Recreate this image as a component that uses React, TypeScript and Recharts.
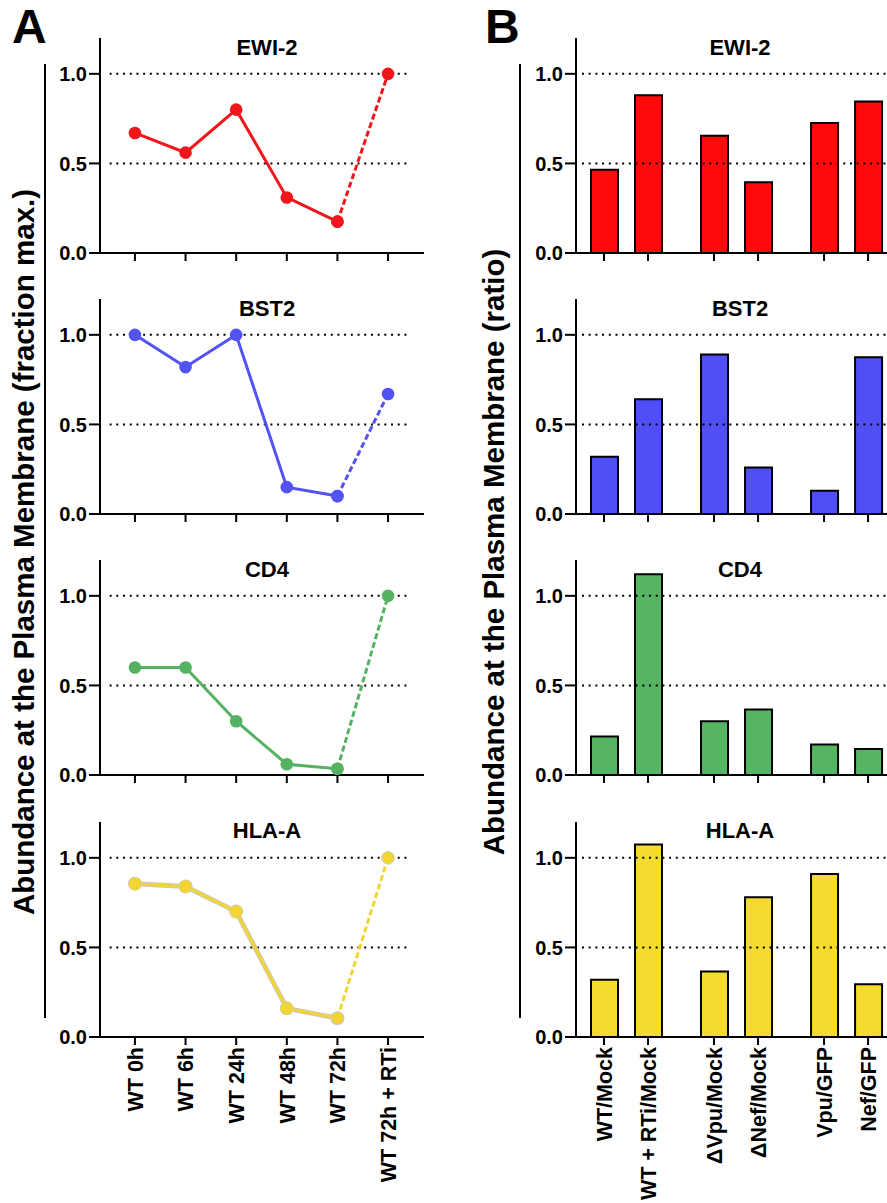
import React from "react"
import { LineChart, Line, BarChart, Bar, XAxis, YAxis, ReferenceLine } from "recharts"

const FONT = "'Liberation Sans', Arial, Helvetica, sans-serif"

// panel titles, one per row
const proteins = ["EWI-2", "BST2", "CD4", "HLA-A"]

// panel A: time course, fraction of max
const timeLabels = ["WT 0h", "WT 6h", "WT 24h", "WT 48h", "WT 72h", "WT 72h + RTi"]
const ewi2Time = [0.67, 0.56, 0.8, 0.31, 0.175, 1.0]
const bst2Time = [1.0, 0.82, 1.0, 0.15, 0.1, 0.67]
const cd4Time = [0.6, 0.6, 0.3, 0.06, 0.035, 1.0]
const hlaTime = [0.855, 0.84, 0.7, 0.16, 0.105, 1.0]

// panel B: ratios, bars grouped in pairs
const ratioLabels = ["WT/Mock", "WT + RTi/Mock", "\u0394Vpu/Mock", "\u0394Nef/Mock", "Vpu/GFP", "Nef/GFP"]
const ratioSlots = [0, 1, 2.5, 3.5, 5, 6]
const ewi2Ratio = [0.465, 0.88, 0.655, 0.395, 0.725, 0.845]
const bst2Ratio = [0.32, 0.64, 0.89, 0.26, 0.13, 0.875]
const cd4Ratio = [0.215, 1.12, 0.3, 0.365, 0.17, 0.145]
const hlaRatio = [0.32, 1.075, 0.365, 0.78, 0.91, 0.295]

const yTicks = [0, 0.5, 1.0]
const gridValues = [0.5, 1.0]

const timeSeries = [ewi2Time, bst2Time, cd4Time, hlaTime]
const ratioSeries = [ewi2Ratio, bst2Ratio, cd4Ratio, hlaRatio]

const lineColors = ["#f2161c", "#5353f3", "#55b262", "#f3d532"]
const barColors = ["#ff0a0a", "#4f4ff5", "#55b563", "#f5da2f"]

// layout
const ZERO0 = 253
const ROW_STEP = 261.2
const PLOT_H = 215
const TOP_M = 10
const LABEL_MID = 552

const axisStyle = { stroke: "#000", strokeWidth: 2 }
const tickFont = { fill: "#000", fontSize: 20, fontWeight: 700, fontFamily: FONT }

// rotated category label under the x axis
function makeTick(labels: string[], slots: number[], show: boolean) {
    // eslint-disable-next-line @typescript-eslint/no-explicit-any
    return ({ x, y, payload }: any) => {
        if (!show) return <g />
        const i = slots.indexOf(payload.value)
        return (
            <text
                x={x}
                y={y}
                transform={`rotate(-90, ${x}, ${y})`}
                textAnchor="end"
                dy="0.36em"
                fill="#000"
                fontSize={21.5}
                fontWeight={700}
                fontFamily={FONT}
            >
                {labels[i]}
            </text>
        )
    }
}

function yAxis() {
    return (
        <YAxis
            type="number"
            domain={[0, 1.2]}
            ticks={yTicks}
            tickFormatter={(v: number) => v.toFixed(1)}
            width={100}
            tickSize={11}
            tickMargin={2}
            axisLine={axisStyle}
            tickLine={axisStyle}
            tick={tickFont}
        />
    )
}

function gridLines(x0: number, x1: number) {
    return gridValues.map(g => (
        <ReferenceLine
            key={g}
            segment={[{ x: x0, y: g }, { x: x1, y: g }]}
            stroke="#000"
            strokeWidth={2}
            strokeDasharray="2 4.7"
        />
    ))
}

function TimePanel({ row }: { row: number }) {
    const values = timeSeries[row]
    const color = lineColors[row]
    const last = row === 3
    const axisH = last ? 170 : 20
    const zero = ZERO0 + ROW_STEP * row
    const slots = timeLabels.map((_, i) => i)
    const data = values.map((v, i) => ({
        pos: i,
        solid: i <= 4 ? v : null,
        dashed: i >= 4 ? v : null,
    }))
    const halo = row === 3
    return (
        <div style={{ position: "absolute", left: 0, top: zero - PLOT_H - TOP_M }}>
            <LineChart width={440} height={TOP_M + PLOT_H + axisH} data={data} margin={{ top: TOP_M, right: 16, bottom: 0, left: 0 }}>
                {gridLines(-0.5, 5.45)}
                <XAxis
                    type="number"
                    dataKey="pos"
                    domain={[-0.69, 5.71]}
                    ticks={slots}
                    interval={0}
                    allowDataOverflow
                    height={axisH}
                    tickSize={8}
                    tickMargin={2}
                    axisLine={axisStyle}
                    tickLine={axisStyle}
                    tick={makeTick(timeLabels, slots, last)}
                />
                {yAxis()}
                {halo && (
                    <Line
                        dataKey="solid"
                        stroke="#c9c9c9"
                        strokeWidth={5}
                        dot={{ r: 7, fill: "#c9c9c9", stroke: "none" }}
                        isAnimationActive={false}
                    />
                )}
                <Line
                    dataKey="solid"
                    stroke={color}
                    strokeWidth={3}
                    dot={{ r: 6.3, fill: color, stroke: "none" }}
                    isAnimationActive={false}
                />
                <Line
                    dataKey="dashed"
                    stroke={color}
                    strokeWidth={3}
                    strokeDasharray="6 3"
                    dot={{ r: 6.3, fill: color, stroke: halo ? "#c9c9c9" : "none", strokeWidth: 1, strokeDasharray: "" }}
                    isAnimationActive={false}
                />
            </LineChart>
        </div>
    )
}

function RatioPanel({ row }: { row: number }) {
    const values = ratioSeries[row]
    const last = row === 3
    const axisH = last ? 170 : 20
    const zero = ZERO0 + ROW_STEP * row
    const data = values.map((v, i) => ({ pos: ratioSlots[i], v }))
    return (
        <div style={{ position: "absolute", left: 476, top: zero - PLOT_H - TOP_M }}>
            <BarChart width={411} height={TOP_M + PLOT_H + axisH} data={data} margin={{ top: TOP_M, right: 0, bottom: 0, left: 0 }}>
                {gridLines(-0.5, 6.43)}
                <XAxis
                    type="number"
                    dataKey="pos"
                    domain={[-0.636, 6.43]}
                    ticks={ratioSlots}
                    interval={0}
                    allowDataOverflow
                    height={axisH}
                    tickSize={8}
                    tickMargin={2}
                    axisLine={axisStyle}
                    tickLine={axisStyle}
                    tick={makeTick(ratioLabels, ratioSlots, last)}
                />
                {yAxis()}
                <Bar dataKey="v" fill={barColors[row]} stroke="#000" strokeWidth={2} barSize={27} isAnimationActive={false} />
            </BarChart>
        </div>
    )
}

export default function App() {
    const rows = [0, 1, 2, 3]
    return (
        <div style={{ position: "absolute", left: 0, top: 0, width: 887, height: 1203, background: "#fff", overflow: "hidden" }}>
            {rows.map(r => <TimePanel key={`a${r}`} row={r} />)}
            {rows.map(r => <RatioPanel key={`b${r}`} row={r} />)}
            <svg width={887} height={1203} style={{ position: "absolute", left: 0, top: 0, pointerEvents: "none" }}>
                <g fontFamily={FONT} fontWeight={700} fill="#000">
                    <text x={12} y={43} fontSize={48}>A</text>
                    <text x={485} y={43} fontSize={48}>B</text>
                    {rows.map(r => (
                        <g key={`t${r}`}>
                            <text x={267} y={ZERO0 + ROW_STEP * r - 198.5} fontSize={22} textAnchor="middle">{proteins[r]}</text>
                            <text x={740} y={ZERO0 + ROW_STEP * r - 198.5} fontSize={22} textAnchor="middle">{proteins[r]}</text>
                        </g>
                    ))}
                    <text transform={`translate(34,${LABEL_MID}) rotate(-90)`} fontSize={29.5} textAnchor="middle">
                        Abundance at the Plasma Membrane (fraction max.)
                    </text>
                    <text transform={`translate(504,${LABEL_MID}) rotate(-90)`} fontSize={29.5} textAnchor="middle">
                        Abundance at the Plasma Membrane (ratio)
                    </text>
                </g>
                <line x1={45} x2={45} y1={64} y2={1018} stroke="#000" strokeWidth={2} />
                <line x1={520} x2={520} y1={64} y2={1018} stroke="#000" strokeWidth={2} />
            </svg>
        </div>
    )
}
